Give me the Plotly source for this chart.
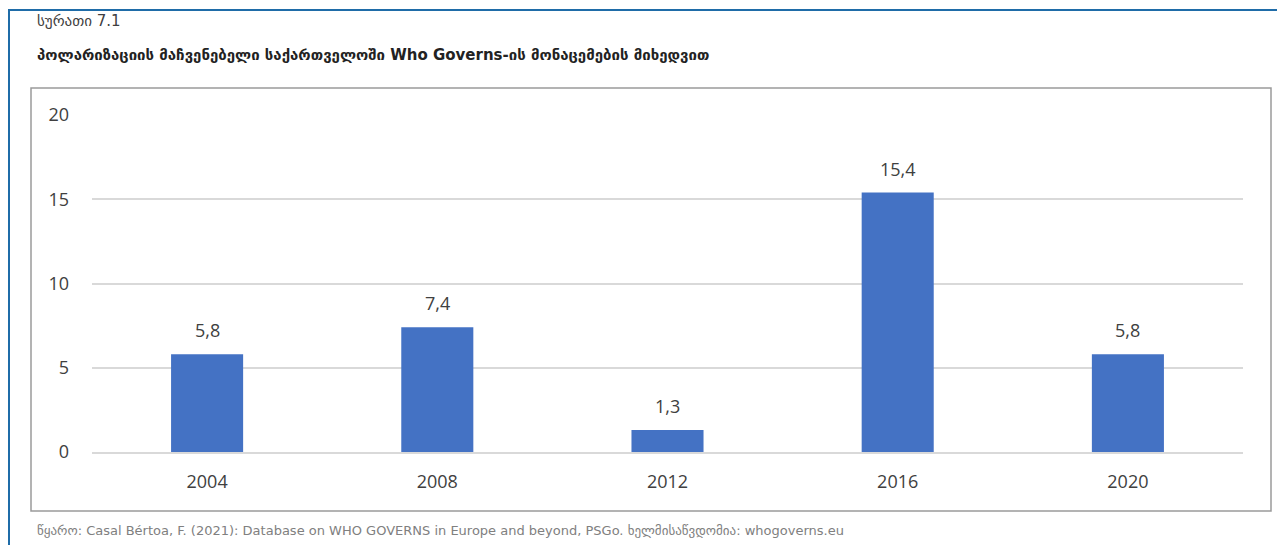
import plotly.graph_objects as go

years = ["2004", "2008", "2012", "2016", "2020"]
values = [5.8, 7.4, 1.3, 15.4, 5.8]
labels = ["5,8", "7,4", "1,3", "15,4", "5,8"]
y_ticks = [0, 5, 10, 15, 20]

# the page body has an 8px margin; work in reference pixels and offset
OFF = 8
W, H = 1285 - OFF, 545 - OFF
L, R, T, B = 92 - OFF, 1243 - OFF, 115 - OFF, 452 - OFF
pw, ph = R - L, B - T

def px(x):
    return (x - OFF - L) / pw

def py(y):
    return (B - (y - OFF)) / ph

fig = go.Figure(go.Bar(
    x=years, y=values,
    marker=dict(color="#4472C4", line=dict(width=0)),
    width=0.313, hoverinfo="x+y",
))

# category index positions for the value labels
label_ann = [
    dict(x=i, y=v, text=lab, xref="x", yref="y", showarrow=False,
         yanchor="bottom", yshift=10,
         font=dict(size=18, color="#404040", family="Open Sans, DejaVu Sans"))
    for i, (v, lab) in enumerate(zip(values, labels))
]

fig.update_layout(
    width=W, height=H,
    margin=dict(l=L, r=W - R, t=T, b=H - B, pad=0, autoexpand=False),
    paper_bgcolor="white", plot_bgcolor="white",
    showlegend=False,
    font=dict(family="Open Sans, DejaVu Sans", color="#595959"),
    xaxis=dict(type="category", categoryorder="array", categoryarray=years,
               range=[-0.5, len(years) - 0.5],
               showgrid=False, showline=True, linecolor="#D9D9D9", linewidth=1.5,
               ticks="", tickfont=dict(size=18, color="#404040"), ticklabelstandoff=13),
    yaxis=dict(range=[0, 20], tickvals=y_ticks, showgrid=True, gridcolor="#D9D9D9",
               gridwidth=1.5, zeroline=False, ticks="", showline=False,
               tickfont=dict(size=18, color="#404040"), ticklabelstandoff=22),
    shapes=[
        dict(type="line", xref="paper", yref="paper", x0=px(8), x1=px(1285), y0=py(10), y1=py(10),
             line=dict(color="#1F6CA8", width=2)),
        dict(type="line", xref="paper", yref="paper", x0=px(9), x1=px(9), y0=py(10), y1=py(545),
             line=dict(color="#1F6CA8", width=2)),
        dict(type="rect", xref="paper", yref="paper", x0=px(31), x1=px(1271), y0=py(88), y1=py(511),
             line=dict(color="#9A9A9A", width=1.5), layer="below"),
    ],
    annotations=label_ann + [
        dict(text="სურათი 7.1", xref="paper", yref="paper", x=px(35), y=py(32),
             xanchor="left", yanchor="bottom", showarrow=False,
             font=dict(size=15, color="#404040", family="DejaVu Sans")),
        dict(text="<b>პოლარიზაციის მაჩვენებელი საქართველოში Who Governs-ის მონაცემების მიხედვით</b>",
             xref="paper", yref="paper", x=px(35), y=py(66),
             xanchor="left", yanchor="bottom", showarrow=False,
             font=dict(size=15, color="#222222", family="DejaVu Sans")),
        dict(text="წყარო: Casal Bértoa, F. (2021): Database on WHO GOVERNS in Europe and beyond, PSGo. ხელმისაწვდომია: whogoverns.eu",
             xref="paper", yref="paper", x=px(35), y=py(540),
             xanchor="left", yanchor="bottom", showarrow=False,
             font=dict(size=13, color="#808080", family="DejaVu Sans")),
    ],
)

fig.write_html("out.html")
